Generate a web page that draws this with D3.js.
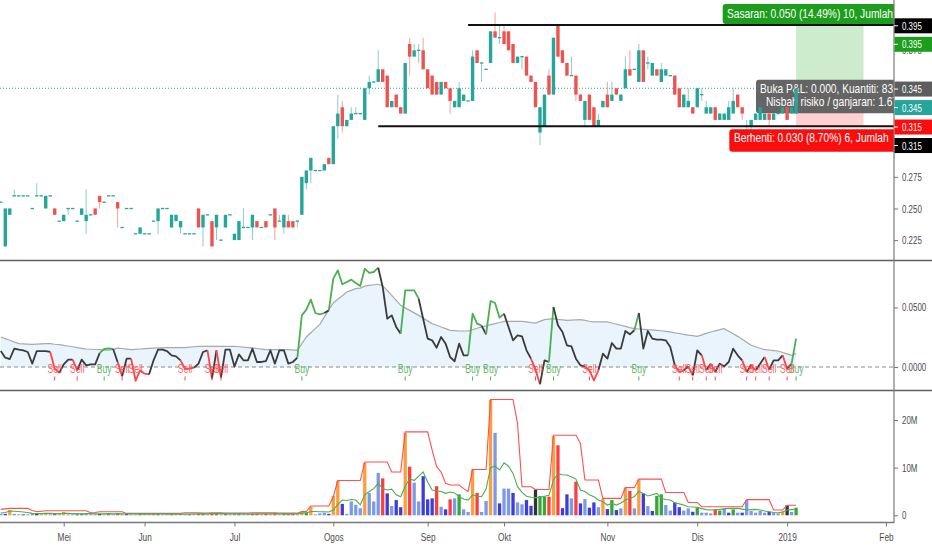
<!DOCTYPE html>
<html>
<head>
<meta charset="utf-8">
<script src="https://d3js.org/d3.v7.min.js"></script>
<style>
  body { margin: 0; background: #fff; }
  svg { display: block; font-family: "Liberation Sans", Arial, sans-serif; }
</style>
</head>
<body>
<div class="container"></div>
<script>
/*
  Daily candles Apr 2018 - Jan 2019, with a signal oscillator and a volume pane.
  Bars are placed by index, month labels sit on the first bar of each month.
*/

// ---- price (OHLC), one entry per trading day ----
const open = [
  0.255,0.220,0.245,0.260,0.260,0.260,0.260,0.250,0.260,0.260,
  0.250,0.260,0.250,0.240,0.240,0.250,0.250,0.240,0.245,0.240,
  0.245,0.250,0.260,0.255,0.260,0.260,0.255,0.235,0.250,0.250,
  0.230,0.230,0.230,0.230,0.240,0.240,0.250,0.250,0.235,0.240,
  0.235,0.230,0.230,0.230,0.250,0.235,0.245,0.240,0.235,0.225,
  0.235,0.245,0.225,0.225,0.235,0.235,0.235,0.240,0.235,0.240,
  0.245,0.250,0.240,0.235,0.240,0.240,0.240,0.245,0.270,0.280,
  0.280,0.280,0.280,0.290,0.285,0.315,0.330,0.315,0.320,0.325,
  0.325,0.320,0.345,0.350,0.350,0.360,0.355,0.330,0.340,0.330,
  0.325,0.380,0.370,0.375,0.375,0.360,0.355,0.350,0.340,0.350,
  0.345,0.330,0.330,0.335,0.335,0.335,0.375,0.365,0.360,0.365,
  0.390,0.385,0.390,0.390,0.380,0.365,0.370,0.370,0.355,0.350,
  0.310,0.315,0.355,0.340,0.395,0.375,0.365,0.355,0.355,0.340,
  0.320,0.340,0.330,0.315,0.330,0.340,0.335,0.345,0.335,0.345,
  0.360,0.360,0.350,0.375,0.365,0.355,0.360,0.350,0.355,0.355,
  0.355,0.345,0.330,0.330,0.330,0.330,0.340,0.325,0.325,0.330,
  0.320,0.320,0.320,0.325,0.340,0.330,0.315,0.315,0.320,0.320,
  0.320,0.325,0.320,0.325,0.325,0.330,0.325,0.325
];
const high = [
  0.255,0.250,0.250,0.265,0.260,0.260,0.260,0.250,0.270,0.260,
  0.260,0.260,0.250,0.240,0.245,0.250,0.250,0.240,0.250,0.265,
  0.245,0.250,0.260,0.255,0.260,0.260,0.255,0.235,0.250,0.250,
  0.230,0.235,0.230,0.230,0.240,0.250,0.250,0.250,0.245,0.245,
  0.240,0.230,0.230,0.230,0.250,0.245,0.245,0.240,0.245,0.225,
  0.245,0.245,0.230,0.240,0.250,0.235,0.245,0.240,0.235,0.240,
  0.245,0.250,0.245,0.245,0.245,0.240,0.240,0.275,0.280,0.290,
  0.280,0.280,0.285,0.290,0.315,0.340,0.335,0.320,0.330,0.330,
  0.325,0.345,0.355,0.350,0.375,0.360,0.355,0.335,0.340,0.330,
  0.365,0.385,0.380,0.380,0.385,0.360,0.355,0.350,0.350,0.350,
  0.345,0.335,0.350,0.340,0.335,0.375,0.375,0.365,0.360,0.390,
  0.405,0.395,0.395,0.390,0.380,0.370,0.370,0.370,0.355,0.350,
  0.330,0.340,0.360,0.385,0.395,0.375,0.365,0.370,0.355,0.340,
  0.335,0.340,0.330,0.325,0.335,0.350,0.350,0.345,0.340,0.370,
  0.375,0.360,0.380,0.375,0.370,0.365,0.360,0.365,0.360,0.355,
  0.355,0.345,0.340,0.345,0.330,0.345,0.345,0.335,0.330,0.330,
  0.325,0.325,0.335,0.345,0.340,0.330,0.320,0.320,0.325,0.330,
  0.325,0.325,0.325,0.325,0.330,0.330,0.330,0.345
];
const low = [
  0.255,0.220,0.245,0.260,0.260,0.260,0.260,0.250,0.260,0.260,
  0.250,0.260,0.245,0.240,0.240,0.245,0.250,0.240,0.245,0.230,
  0.245,0.245,0.250,0.255,0.260,0.260,0.235,0.235,0.250,0.250,
  0.230,0.230,0.230,0.230,0.240,0.230,0.250,0.250,0.235,0.240,
  0.230,0.230,0.230,0.230,0.235,0.220,0.245,0.220,0.225,0.225,
  0.235,0.245,0.225,0.225,0.235,0.235,0.225,0.235,0.235,0.235,
  0.245,0.225,0.240,0.230,0.235,0.235,0.235,0.245,0.265,0.270,
  0.280,0.280,0.280,0.285,0.285,0.305,0.310,0.315,0.320,0.325,
  0.325,0.320,0.340,0.350,0.350,0.350,0.330,0.330,0.330,0.325,
  0.325,0.355,0.370,0.365,0.360,0.345,0.340,0.340,0.340,0.345,
  0.325,0.330,0.330,0.335,0.335,0.335,0.365,0.350,0.360,0.365,
  0.385,0.380,0.380,0.375,0.365,0.365,0.360,0.355,0.350,0.330,
  0.300,0.315,0.340,0.340,0.370,0.365,0.355,0.355,0.335,0.335,
  0.315,0.320,0.315,0.315,0.330,0.330,0.335,0.340,0.335,0.345,
  0.355,0.360,0.350,0.350,0.360,0.355,0.355,0.350,0.355,0.355,
  0.340,0.330,0.330,0.330,0.325,0.330,0.335,0.325,0.325,0.320,
  0.320,0.320,0.320,0.325,0.330,0.320,0.310,0.310,0.320,0.320,
  0.320,0.315,0.320,0.325,0.325,0.320,0.325,0.325
];
const close = [
  0.255,0.250,0.250,0.260,0.260,0.260,0.260,0.250,0.260,0.260,
  0.260,0.260,0.245,0.240,0.245,0.250,0.250,0.240,0.250,0.245,
  0.245,0.245,0.255,0.255,0.260,0.260,0.250,0.235,0.250,0.250,
  0.230,0.235,0.230,0.230,0.240,0.250,0.250,0.250,0.245,0.245,
  0.240,0.230,0.230,0.230,0.235,0.245,0.245,0.220,0.245,0.225,
  0.245,0.245,0.230,0.240,0.235,0.235,0.245,0.235,0.235,0.235,
  0.245,0.235,0.240,0.245,0.235,0.235,0.240,0.275,0.280,0.290,
  0.280,0.280,0.285,0.285,0.315,0.325,0.315,0.320,0.325,0.325,
  0.325,0.345,0.350,0.350,0.360,0.350,0.330,0.335,0.330,0.325,
  0.365,0.370,0.375,0.375,0.360,0.345,0.340,0.340,0.350,0.345,
  0.335,0.335,0.345,0.340,0.335,0.370,0.365,0.365,0.360,0.390,
  0.385,0.385,0.380,0.375,0.365,0.370,0.370,0.355,0.350,0.330,
  0.330,0.340,0.340,0.385,0.370,0.365,0.355,0.355,0.340,0.335,
  0.335,0.320,0.315,0.320,0.335,0.330,0.340,0.340,0.340,0.360,
  0.355,0.360,0.375,0.350,0.365,0.365,0.355,0.360,0.360,0.355,
  0.340,0.330,0.340,0.335,0.325,0.345,0.340,0.330,0.330,0.320,
  0.325,0.325,0.330,0.335,0.330,0.325,0.315,0.320,0.325,0.330,
  0.325,0.320,0.325,0.325,0.330,0.320,0.330,0.345
];

// ---- oscillator and its smoothed envelope ----
const osc = [
  0.0134,0.0078,0.0067,0.0154,0.0145,0.0140,0.0126,0.0028,0.0134,0.0134,
  0.0134,0.0126,-0.0014,-0.0050,0.0022,0.0062,0.0062,-0.0028,0.0062,0.0014,
  0.0022,0.0022,0.0117,0.0151,0.0157,0.0151,0.0042,-0.0078,0.0070,0.0070,
  -0.0117,-0.0028,-0.0056,-0.0062,0.0056,0.0145,0.0145,0.0134,0.0098,0.0089,
  0.0056,-0.0014,-0.0014,-0.0006,0.0028,0.0126,0.0140,-0.0098,0.0140,-0.0089,
  0.0145,0.0145,0.0003,0.0106,0.0056,0.0056,0.0154,0.0042,0.0042,0.0050,
  0.0140,0.0028,0.0140,0.0140,0.0028,0.0042,0.0078,0.0433,0.0481,0.0565,
  0.0453,0.0442,0.0453,0.0475,0.0741,0.0811,0.0694,0.0713,0.0733,0.0705,
  0.0680,0.0825,0.0789,0.0797,0.0833,0.0671,0.0405,0.0433,0.0336,0.0280,
  0.0643,0.0643,0.0643,0.0573,0.0405,0.0238,0.0224,0.0162,0.0252,0.0196,
  0.0084,0.0048,0.0196,0.0098,0.0098,0.0447,0.0364,0.0347,0.0274,0.0554,
  0.0537,0.0414,0.0447,0.0336,0.0224,0.0266,0.0257,0.0140,0.0070,-0.0022,
  -0.0145,0.0056,0.0042,0.0503,0.0350,0.0294,0.0182,0.0173,0.0070,0.0014,
  0.0006,-0.0028,-0.0112,-0.0028,0.0112,0.0070,0.0201,0.0154,0.0154,0.0302,
  0.0274,0.0308,0.0453,0.0154,0.0302,0.0238,0.0229,0.0229,0.0224,0.0168,
  0.0014,-0.0042,-0.0028,0.0006,-0.0070,0.0140,0.0098,-0.0028,0.0028,-0.0042,
  0.0028,0.0006,0.0042,0.0154,0.0098,0.0056,-0.0042,0.0014,-0.0028,0.0028,
  0.0084,-0.0022,0.0056,0.0056,0.0098,-0.0014,0.0028,0.0238
];
const envelope = [
  0.0252,0.0238,0.0224,0.0210,0.0196,0.0194,0.0192,0.0190,0.0192,0.0194,
  0.0196,0.0196,0.0191,0.0187,0.0182,0.0176,0.0170,0.0163,0.0157,0.0151,
  0.0149,0.0147,0.0145,0.0141,0.0141,0.0148,0.0158,0.0155,0.0150,0.0145,
  0.0148,0.0151,0.0154,0.0156,0.0158,0.0160,0.0161,0.0162,0.0162,0.0162,
  0.0162,0.0162,0.0166,0.0170,0.0173,0.0173,0.0173,0.0173,0.0173,0.0173,
  0.0173,0.0173,0.0173,0.0170,0.0166,0.0163,0.0160,0.0155,0.0150,0.0145,
  0.0145,0.0145,0.0145,0.0145,0.0145,0.0143,0.0140,0.0196,0.0252,0.0287,
  0.0322,0.0358,0.0418,0.0478,0.0537,0.0568,0.0598,0.0629,0.0643,0.0657,
  0.0662,0.0678,0.0685,0.0690,0.0694,0.0680,0.0643,0.0601,0.0559,0.0517,
  0.0496,0.0475,0.0454,0.0433,0.0410,0.0387,0.0364,0.0350,0.0336,0.0322,
  0.0308,0.0305,0.0302,0.0302,0.0302,0.0313,0.0325,0.0336,0.0345,0.0355,
  0.0364,0.0373,0.0383,0.0383,0.0383,0.0383,0.0383,0.0378,0.0373,0.0369,
  0.0383,0.0397,0.0401,0.0405,0.0400,0.0396,0.0391,0.0393,0.0395,0.0397,
  0.0391,0.0384,0.0378,0.0378,0.0378,0.0378,0.0369,0.0359,0.0350,0.0341,
  0.0331,0.0322,0.0319,0.0316,0.0313,0.0311,0.0308,0.0304,0.0299,0.0294,
  0.0287,0.0281,0.0274,0.0268,0.0263,0.0257,0.0269,0.0282,0.0294,0.0303,
  0.0313,0.0322,0.0300,0.0279,0.0257,0.0232,0.0207,0.0182,0.0170,0.0157,
  0.0145,0.0141,0.0138,0.0134,0.0122,0.0110,0.0098,0.0112
];
const buySignals = [23, 67, 90, 105, 109, 123, 142, 177];
const sellSignals = [12, 17, 27, 30, 41, 47, 49, 119, 131, 151, 154, 157, 159, 166, 168, 171, 175];

// ---- volume (millions), bar class, and the two volume lines ----
const volume = [
  0.3,0.3,1.1,0.3,0.2,0.2,0.2,0.3,0.3,0.2,
  0.5,0.2,0.3,0.2,0.7,0.2,0.2,0.2,0.3,0.4,
  0.2,0.2,0.3,0.2,0.3,0.2,0.4,0.2,0.3,0.2,
  0.2,0.3,0.2,0.2,0.3,0.3,0.2,0.2,0.3,0.2,
  0.3,0.2,0.2,0.2,0.4,0.4,0.2,0.5,0.3,0.2,
  0.3,0.2,0.3,0.4,0.2,0.2,0.3,0.3,0.2,0.3,
  0.2,0.4,0.2,0.3,0.3,0.3,0.2,0.8,0.6,1.8,
  0.2,0.4,0.55,0.3,4.05,7.2,2.4,0.3,2.9,2.2,
  1.5,11.0,4.7,2.9,8.9,7.75,4.6,1.95,3.2,1.7,
  17.3,10.2,6.85,2.9,8.2,3.35,3.55,6.1,1.8,1.25,
  3.35,3.55,4.4,1.25,0.7,9.6,4.7,0.7,3.0,24.2,
  17.3,2.5,5.6,5.6,4.7,2.7,2.3,3.2,2.0,5.4,
  4.05,3.9,3.9,16.6,14.7,1.5,4.4,3.55,7.05,2.5,
  3.4,1.6,2.7,1.7,3.55,1.3,3.2,1.1,1.45,5.8,
  5.1,1.45,7.5,4.6,1.95,0.9,4.05,4.4,2.15,1.0,
  2.65,1.7,1.0,1.45,0.75,1.6,0.55,0.55,0.4,1.1,
  1.0,1.45,0.55,1.25,0.55,0.55,3.2,0.9,0.55,0.9,
  0.55,0.75,0.55,0.4,0.8,2.1,0.7,1.6
];
// o climax, r down-high, b down, l up-low, g up-high, k churn (10 bars per row)
const volumeClass = [
  'lbollbllkl', 'olrlollbgl', 'llklglrlbl', 'lglllgllgl', 'llblrglrgl',
  'gllgllgrlr', 'lrlgrrlogo', 'lllbooblll', 'lolllrblbb', 'orllbbbrlb',
  'rlgllorllo', 'lbllbllbbk', 'ggrorbblrb', 'lbblobgblo', 'rloblbggll',
  'bbllbglllr', 'glbglbllll', 'lblloklg'
].join('').split('');
const volumeHigh = [
  1.25,1.35,1.45,1.45,1.45,1.45,1.45,1.0,0.75,0.85,
  0.95,0.95,0.95,0.95,0.95,0.95,0.95,0.95,0.95,0.95,
  0.55,0.6,0.75,0.75,0.75,0.75,0.75,0.75,0.4,0.4,
  0.4,0.4,0.4,0.4,0.4,0.4,0.4,0.4,0.4,0.4,
  0.4,0.55,0.55,0.55,0.55,0.45,0.45,0.5,0.5,0.5,
  0.45,0.45,0.45,0.45,0.45,0.45,0.5,0.5,0.5,0.5,
  0.5,0.5,0.45,0.45,0.45,0.45,0.45,0.8,0.8,1.95,
  1.95,1.95,1.95,1.95,3.9,7.3,7.3,7.3,7.3,7.3,
  7.3,11.2,11.2,11.2,11.2,11.2,11.2,9.1,9.1,9.1,
  17.5,17.5,17.5,17.5,17.5,17.5,13.7,10.2,9.1,6.7,
  6.35,6.35,6.35,5.6,5.0,9.6,9.6,9.6,9.6,24.3,
  24.3,24.3,24.3,24.3,24.3,19.3,6.0,6.0,6.0,5.4,
  5.4,5.4,5.4,16.8,16.8,16.8,16.8,16.8,16.8,15.1,
  7.4,7.4,7.4,7.4,3.55,3.55,3.55,3.55,3.55,5.8,
  5.8,5.8,7.6,7.6,7.6,7.6,7.6,7.6,4.8,4.8,
  4.8,4.8,4.8,2.7,2.7,2.7,1.8,1.8,1.8,1.8,
  1.8,1.8,1.8,1.8,1.8,1.8,3.3,3.3,3.3,3.3,
  3.3,3.3,1.1,1.1,1.1,2.1,2.1,2.1
];
const volumeAvg = [
  0.5,0.6,0.9,0.85,0.8,0.7,0.6,0.4,0.35,0.35,
  0.4,0.4,0.35,0.35,0.4,0.4,0.35,0.35,0.3,0.35,
  0.35,0.3,0.3,0.3,0.35,0.3,0.35,0.3,0.3,0.3,
  0.3,0.3,0.25,0.25,0.25,0.3,0.3,0.25,0.25,0.25,
  0.25,0.25,0.25,0.3,0.3,0.3,0.3,0.35,0.35,0.35,
  0.3,0.3,0.3,0.3,0.3,0.25,0.25,0.3,0.3,0.3,
  0.3,0.3,0.3,0.3,0.3,0.3,0.3,0.45,0.5,0.8,
  0.8,0.75,0.75,0.7,1.1,2.3,3.2,3.1,3.3,3.2,
  2.2,4.3,5.0,5.6,6.7,5.6,5.3,5.5,4.3,3.9,
  6.1,7.7,7.3,8.2,9.1,7.0,5.3,5.1,5.0,4.6,
  4.9,4.7,3.9,3.4,3.2,4.3,4.0,3.9,5.5,10.0,
  10.3,9.5,11.0,10.3,8.8,6.0,4.8,4.0,3.8,3.7,
  3.75,4.0,4.2,7.4,8.7,8.5,8.45,8.1,7.6,5.3,
  5.0,4.3,3.9,3.2,2.85,2.15,2.5,2.15,2.6,3.2,
  3.6,3.9,5.0,4.6,4.05,4.3,4.6,3.55,3.3,3.2,
  2.65,2.4,2.15,1.8,1.75,1.7,1.4,1.2,1.1,1.2,
  1.25,1.35,1.45,1.45,1.45,1.3,1.1,1.2,1.25,1.1,
  0.9,0.75,0.6,0.55,0.7,1.1,1.2,1.3
];

// ---- axis labels ----
const monthLabels = ['Mei', 'Jun', 'Jul', 'Ogos', 'Sep', 'Okt', 'Nov', 'Dis', '2019', 'Feb'];
const monthIndex = [14, 32, 52, 74, 95, 112, 135, 155, 175, 197];
const priceTicks = [0.225, 0.250, 0.275, 0.300, 0.375];
const oscTicks = [0, 0.05];
const volumeTicks = [0, 10, 20];

// ---- drawings: two horizontal levels and a long position ----
const levels = [{ price: 0.395, from: 104 }, { price: 0.315, from: 84 }];
const entry = 0.345, target = 0.395, stop = 0.315, tick = 0.005;
const positionFrom = 177, positionTo = 192;
const quantity = 83;

// ---------------------------------------------------------------
const width = 932, height = 550;
const axisX = 894;
const narrow = 0.72;       // text in the picture is squeezed sideways
const upColor = '#26a69a', downColor = '#ef5350';

const svg = d3.select('.container').append('svg')
    .attr('width', width).attr('height', height);

const panes = {
    price: [0, 260],
    osc: [261, 389],
    vol: [392, 522],
};

const defs = svg.append('defs');
Object.entries(panes).forEach(([k, [t, b]]) => {
    defs.append('clipPath').attr('id', 'clip-' + k)
        .append('rect').attr('x', 0).attr('y', t).attr('width', axisX).attr('height', b - t);
});

const n = close.length;
const x = d3.scaleLinear().domain([0, n - 1]).range([0.8, 796.1]);
const yPrice = d3.scaleLinear().domain([0.225, 0.395]).range([240.1, 25]);
const yOsc = d3.scaleLinear().domain([0, 0.05]).range([367, 307.4]);
const yVol = d3.scaleLinear().domain([0, 20]).range([515.3, 420]);

function narrowText(parent, px, py, str, size, fill, anchor, sx) {
    const g = parent.append('g').attr('transform', `translate(${px},${py}) scale(${sx || narrow},1)`);
    g.append('text').text(str)
        .attr('font-size', size)
        .attr('fill', fill)
        .attr('text-anchor', anchor || 'start');
    return g;
}

// ================= price pane =================
const pp = svg.append('g').attr('clip-path', 'url(#clip-price)');
const lastClose = close[n - 1];

// dotted last-price line
pp.append('line')
    .attr('x1', 0).attr('x2', axisX)
    .attr('y1', yPrice(lastClose)).attr('y2', yPrice(lastClose))
    .attr('stroke', upColor).attr('stroke-width', 1).attr('stroke-dasharray', '1,2');

// position zones
pp.append('rect')
    .attr('x', x(positionFrom)).attr('width', x(positionTo) - x(positionFrom))
    .attr('y', yPrice(target)).attr('height', yPrice(entry) - yPrice(target))
    .attr('fill', '#cdeccd');
pp.append('rect')
    .attr('x', x(positionFrom)).attr('width', x(positionTo) - x(positionFrom))
    .attr('y', yPrice(entry)).attr('height', yPrice(stop) - yPrice(entry))
    .attr('fill', '#ffd1d1');

// P&L box sits under the candles
const pnlTop = yPrice(entry) - 8.5;
pp.append('rect').attr('x', 756).attr('y', pnlTop).attr('width', 200).attr('height', 33.5)
    .attr('rx', 3).attr('fill', '#5d5d5d').attr('fill-opacity', 0.95);
const pnl = (lastClose - entry).toFixed(3);
const rr = ((target - entry) / (entry - stop)).toFixed(2);
narrowText(pp, 760, pnlTop + 13, `Buka P&L: ${pnl}, Kuantiti: ${quantity}`, 12, '#fff', 'start', 0.85);
narrowText(pp, 766, pnlTop + 26.5, `Nisbah risiko / ganjaran: ${rr}`, 12, '#fff', 'start', 0.85);

// candles
const bars = d3.range(n).map(i => ({ i, o: open[i], h: high[i], l: low[i], c: close[i] }));
const isUp = d => d.c >= d.o;
const cg = pp.append('g');
cg.selectAll('.wick').data(bars).enter().append('line')
    .attr('class', 'wick')
    .attr('x1', d => x(d.i)).attr('x2', d => x(d.i))
    .attr('y1', d => yPrice(d.h)).attr('y2', d => yPrice(d.l))
    .attr('stroke', d => isUp(d) ? upColor : downColor)
    .attr('stroke-opacity', 0.55);
cg.selectAll('.body').data(bars).enter().append('rect')
    .attr('class', 'body')
    .attr('x', d => x(d.i) - 1.7).attr('width', 3.4)
    .attr('y', d => yPrice(Math.max(d.o, d.c)) - (d.o === d.c ? 0.6 : 0))
    .attr('height', d => Math.max(1.3, Math.abs(yPrice(d.o) - yPrice(d.c))))
    .attr('fill', d => isUp(d) ? upColor : downColor);

// horizontal levels
pp.selectAll('.level').data(levels).enter().append('line')
    .attr('x1', d => x(d.from)).attr('x2', axisX)
    .attr('y1', d => yPrice(d.price)).attr('y2', d => yPrice(d.price))
    .attr('stroke', '#111').attr('stroke-width', 2);

// target / stop boxes
const pct = v => (Math.abs(v - entry) / entry * 100).toFixed(2);
const ticks = v => Math.round(Math.abs(v - entry) / tick);
const tTop = yPrice(target) - 21;
pp.append('rect').attr('x', 722.7).attr('y', tTop).attr('width', 240).attr('height', 20)
    .attr('rx', 3).attr('fill', '#1c9e1c');
narrowText(pp, 727, tTop + 14.3,
    `Sasaran: ${(target - entry).toFixed(3)} (${pct(target)}%) ${ticks(target)}, Jumlah`, 12, '#fff', 'start', 0.85);
const sTop = yPrice(stop) + 3;
pp.append('rect').attr('x', 729.3).attr('y', sTop).attr('width', 240).attr('height', 22.5)
    .attr('rx', 3).attr('fill', '#fb0d0d');
narrowText(pp, 734, sTop + 12.6,
    `Berhenti: ${(entry - stop).toFixed(3)} (${pct(stop)}%) ${ticks(stop)}, Jumlah`, 12, '#fff', 'start', 0.85);

// ================= oscillator pane =================
const op = svg.append('g').attr('clip-path', 'url(#clip-osc)');
const idx = d3.range(n);
op.append('path')
    .attr('d', d3.area().x(i => x(i)).y0(yOsc(0)).y1(i => yOsc(envelope[i]))(idx))
    .attr('fill', '#e9f4fd');
op.append('path')
    .attr('d', d3.line().x(i => x(i)).y(i => yOsc(envelope[i]))(idx))
    .attr('fill', 'none').attr('stroke', '#a9a9a9').attr('stroke-width', 1.2);
op.append('line')
    .attr('x1', 0).attr('x2', axisX).attr('y1', yOsc(0)).attr('y2', yOsc(0))
    .attr('stroke', '#8a8a8a').attr('stroke-dasharray', '4,3');

const oscColor = i => osc[i] < 0 ? '#ff4545' : (osc[i] > envelope[i] ? '#4caf50' : '#3b3b3b');
const runs = [];
for (let i = 1; i < n; i++) {
    const c = oscColor(i);
    if (!runs.length || runs[runs.length - 1].color !== c) runs.push({ color: c, pts: [i - 1] });
    runs[runs.length - 1].pts.push(i);
}
const oscLine = d3.line().x(i => x(i)).y(i => yOsc(osc[i]));
op.selectAll('.run').data(runs).enter().append('path')
    .attr('d', d => oscLine(d.pts))
    .attr('fill', 'none').attr('stroke', d => d.color)
    .attr('stroke-width', 1.8).attr('stroke-linejoin', 'round');

const signals = buySignals.map(i => ({ i, t: 'Buy', c: '#4caf50' }))
    .concat(sellSignals.map(i => ({ i, t: 'Sell', c: '#ff4a4a' })));
signals.forEach(s => {
    narrowText(op, x(s.i), 373, s.t, 12, s.c, 'middle').attr('opacity', 0.85);
    op.append('line').attr('x1', x(s.i)).attr('x2', x(s.i)).attr('y1', 376.5).attr('y2', 380.5)
        .attr('stroke', s.c).attr('stroke-width', 1);
});

// ================= volume pane =================
const vp = svg.append('g').attr('clip-path', 'url(#clip-vol)');
const volColor = d3.scaleOrdinal()
    .domain(['o', 'r', 'b', 'l', 'g', 'k'])
    .range(['#ff9d3b', '#ff3d3d', '#3d3ddb', '#7d9ae6', '#3aa53a', '#333333']);
vp.selectAll('.vbar').data(idx).enter().append('rect')
    .attr('x', i => x(i) - 1.65).attr('width', 3.3)
    .attr('y', i => yVol(volume[i])).attr('height', i => yVol(0) - yVol(volume[i]))
    .attr('fill', i => volColor(volumeClass[i] || 'l'));
vp.append('path')
    .attr('d', d3.line().x(i => x(i)).y(i => yVol(volumeHigh[i]))(idx))
    .attr('fill', 'none').attr('stroke', '#ff5050').attr('stroke-width', 1.1);
vp.append('path')
    .attr('d', d3.line().x(i => x(i)).y(i => yVol(volumeAvg[i]))(idx))
    .attr('fill', 'none').attr('stroke', '#4caf50').attr('stroke-width', 1.1);

// ================= frame and axes =================
svg.append('line').attr('x1', 0).attr('x2', width).attr('y1', 260.5).attr('y2', 260.5)
    .attr('stroke', '#5f5f5f').attr('stroke-width', 1.6);
svg.append('line').attr('x1', 0).attr('x2', width).attr('y1', 390.5).attr('y2', 390.5)
    .attr('stroke', '#5f5f5f').attr('stroke-width', 1.6);
svg.append('line').attr('x1', axisX).attr('x2', axisX).attr('y1', 0).attr('y2', 523)
    .attr('stroke', '#7a7a7a').attr('stroke-width', 1.2);
svg.append('line').attr('x1', 0).attr('x2', axisX).attr('y1', 522.5).attr('y2', 522.5)
    .attr('stroke', '#7a7a7a').attr('stroke-width', 1.4);

function styleAxis(g) {
    g.select('.domain').remove();
    g.attr('font-family', '"Liberation Sans", Arial, sans-serif').attr('font-size', 11);
    g.selectAll('.tick line').attr('stroke', '#777');
    g.selectAll('.tick text').attr('fill', '#4d4d4d');
}
function narrowRight(g) {
    g.selectAll('.tick text').each(function () {
        const t = d3.select(this);
        t.attr('x', +t.attr('x') / narrow).attr('transform', `scale(${narrow},1)`);
    });
}

svg.append('g').attr('transform', `translate(${axisX},0)`)
    .call(d3.axisRight(yPrice).tickValues(priceTicks).tickFormat(d3.format('.3f')).tickSize(4).tickPadding(4))
    .call(styleAxis).call(narrowRight);
svg.append('g').attr('transform', `translate(${axisX},0)`)
    .call(d3.axisRight(yOsc).tickValues(oscTicks).tickFormat(d3.format('.4f')).tickSize(4).tickPadding(4))
    .call(styleAxis).call(narrowRight);
svg.append('g').attr('transform', `translate(${axisX},0)`)
    .call(d3.axisRight(yVol).tickValues(volumeTicks).tickFormat(d => d === 0 ? '0' : d + 'M').tickSize(4).tickPadding(4))
    .call(styleAxis).call(narrowRight);
svg.append('g').attr('transform', 'translate(0,522.5)')
    .call(d3.axisBottom(x).tickValues(monthIndex).tickFormat((d, i) => monthLabels[i]).tickSize(4).tickPadding(6))
    .call(styleAxis)
    .call(g => g.selectAll('.tick text').attr('transform', `scale(${narrow},1)`).attr('font-size', 11.5));

// price tags on the axis, pushed down when they collide
const tags = [
    { price: levels[0].price, fill: '#000000' },
    { price: target, fill: '#1c9e1c' },
    { price: entry, fill: '#5d5d5d' },
    { price: lastClose, fill: upColor },
    { price: stop, fill: '#fb0d0d' },
    { price: levels[1].price, fill: '#000000' },
];
let prevY = -100;
tags.forEach(t => {
    let ty = yPrice(t.price) + 0.8;
    if (ty < prevY + 18.5) ty = prevY + 18.5;
    prevY = ty;
    const g = svg.append('g').attr('transform', `translate(${axisX},${ty})`);
    g.append('rect').attr('x', 0.5).attr('y', -7.5).attr('width', width - axisX).attr('height', 15).attr('fill', t.fill);
    g.append('line').attr('x1', 0).attr('x2', 4).attr('stroke', '#fff');
    narrowText(g, 8, 4, d3.format('.3f')(t.price), 11, '#fff', 'start');
});
</script>
</body>
</html>
